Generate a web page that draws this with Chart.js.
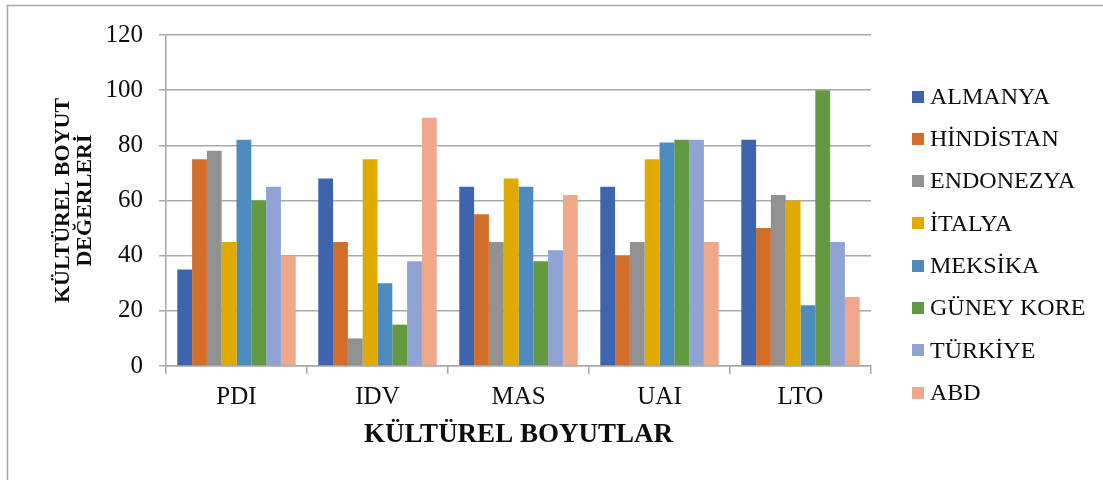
<!DOCTYPE html>
<html lang="tr">
<head>
<meta charset="utf-8">
<title>Kültürel Boyut Değerleri</title>
<script src="https://cdn.jsdelivr.net/npm/chart.js@4/dist/chart.umd.min.js"></script>
<style>
  html, body { margin: 0; padding: 0; background: #ffffff; }
  #wrap { width: 1103px; height: 480px; }
</style>
</head>
<body>
<div id="wrap"><canvas id="chart" width="1103" height="480"></canvas></div>
<script>
// Hofstede cultural dimensions per country
const categories = ['PDI', 'IDV', 'MAS', 'UAI', 'LTO'];
const countries = ['ALMANYA', 'HİNDİSTAN', 'ENDONEZYA', 'İTALYA', 'MEKSİKA', 'GÜNEY KORE', 'TÜRKİYE', 'ABD'];

const almanya   = [35, 68, 65, 65, 82];
const hindistan = [75, 45, 55, 40, 50];
const endonezya = [78, 10, 45, 45, 62];
const italya    = [45, 75, 68, 75, 60];
const meksika   = [82, 30, 65, 81, 22];
const guneyKore = [60, 15, 38, 82, 100];
const turkiye   = [65, 38, 42, 82, 45];
const abd       = [40, 90, 62, 45, 25];

const yTicks = [0, 20, 40, 60, 80, 100, 120];

const seriesValues = [almanya, hindistan, endonezya, italya, meksika, guneyKore, turkiye, abd];
const palette = ['#3d64ad', '#d26e2a', '#919191', '#e0aa00', '#4e8bbe', '#639940', '#8fa3d4', '#f0a88a'];

const FONT = '"Liberation Serif", "Times New Roman", serif';
const GRID = '#a8a8a8';
const INK = '#0d0d0d';

// Outer frame of the chart object
const framePlugin = {
  id: 'frame',
  beforeDraw(chart) {
    const ctx = chart.ctx;
    ctx.save();
    ctx.strokeStyle = GRID;
    ctx.lineWidth = 1.5;
    ctx.beginPath();
    ctx.moveTo(7.5, 490);
    ctx.lineTo(7.5, 5.5);
    ctx.lineTo(1110, 5.5);
    ctx.stroke();
    ctx.restore();
  }
};

// Vertical legend on the right side
const sideLegend = {
  id: 'sideLegend',
  afterDraw(chart) {
    const ctx = chart.ctx;
    ctx.save();
    ctx.font = '24px ' + FONT;
    ctx.textBaseline = 'middle';
    ctx.textAlign = 'left';
    chart.data.datasets.forEach((ds, i) => {
      const cy = 96.5 + i * 42.3;
      ctx.fillStyle = ds.backgroundColor;
      ctx.fillRect(912, Math.round(cy - 6), 12, 12);
      ctx.fillStyle = INK;
      ctx.fillText(ds.label, 930, cy + 1);
    });
    ctx.restore();
  }
};

new Chart(document.getElementById('chart'), {
  type: 'bar',
  data: {
    labels: categories,
    datasets: countries.map((name, i) => ({
      label: name,
      data: seriesValues[i],
      backgroundColor: palette[i],
      borderWidth: 0,
      categoryPercentage: 0.84,
      barPercentage: 1.0
    }))
  },
  options: {
    responsive: false,
    animation: false,
    devicePixelRatio: 1,
    layout: { padding: { top: 35, right: 232, bottom: 0, left: 0 } },
    plugins: {
      legend: { display: false },
      tooltip: { enabled: false }
    },
    scales: {
      x: {
        grid: {
          offset: true,
          drawOnChartArea: false,
          drawTicks: true,
          tickLength: 8,
          color: GRID,
          lineWidth: 1.5
        },
        border: { display: true, color: GRID, width: 1.5 },
        ticks: {
          color: INK,
          font: { family: FONT, size: 25 },
          padding: 8
        },
        title: {
          display: true,
          text: 'KÜLTÜREL BOYUTLAR',
          color: INK,
          font: { family: FONT, size: 27, weight: 'bold', lineHeight: 1 },
          padding: { top: 0, bottom: 31 }
        },
        afterFit(scale) { scale.height = 114; }
      },
      y: {
        min: 0,
        max: 120,
        afterBuildTicks(scale) { scale.ticks = yTicks.map(v => ({ value: v })); },
        grid: {
          color: GRID,
          lineWidth: 1.5,
          drawTicks: true,
          tickLength: 7
        },
        border: { display: true, color: GRID, width: 1.5 },
        ticks: {
          color: INK,
          font: { family: FONT, size: 25 },
          padding: 16
        },
        title: {
          display: true,
          text: ['KÜLTÜREL BOYUT', 'DEĞERLERİ'],
          color: INK,
          font: { family: FONT, size: 22, weight: 'bold', lineHeight: '22px' },
          padding: { top: 52, bottom: 0 }
        },
        afterFit(scale) { scale.width = 166; }
      }
    }
  },
  plugins: [framePlugin, sideLegend]
});
</script>
</body>
</html>
